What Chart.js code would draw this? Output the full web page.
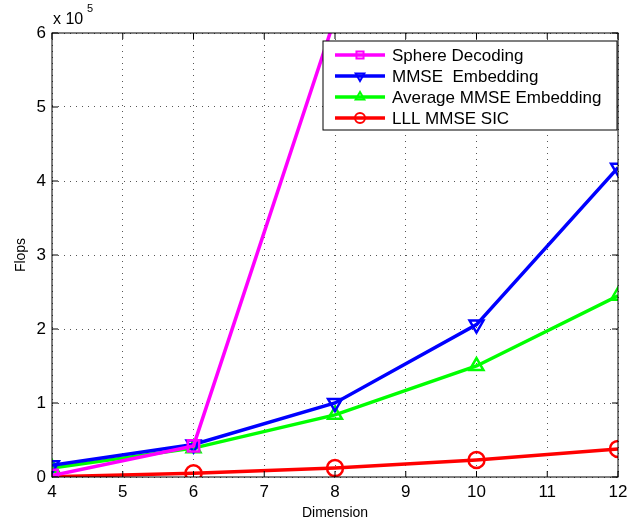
<!DOCTYPE html>
<html>
<head>
<meta charset="utf-8">
<script src="https://cdn.jsdelivr.net/npm/chart.js@4"></script>
<style>
  body { margin: 0; background: #fff; }
  #wrap { width: 638px; height: 522px; }
</style>
</head>
<body>
<div id="wrap"><canvas id="flopsChart"></canvas></div>
<script>
// Data (flops)
const dims = [4, 6, 8, 10, 12];
const sphereDecoding = [2000, 42000, 620000, null, null];
const mmseEmbedding = [16000, 44000, 100000, 206000, 418000];
const avgMmseEmbedding = [12000, 39000, 84000, 150000, 245000];
const lllMmseSic = [500, 5000, 12000, 23000, 38000];
const yTicks = [0, 1, 2, 3, 4, 5, 6];

const FONT = 'Liberation Sans, Arial, sans-serif';

function toPoints(vals) {
    return dims.map((d, i) => ({ x: d, y: vals[i] }));
}

function series(label, vals, color, style, rot) {
    return {
        label: label,
        data: toPoints(vals),
        borderColor: color,
        backgroundColor: color,
        borderWidth: 3.5,
        pointStyle: style,
        pointRotation: rot || 0,
        pointRadius: 8,
        pointBorderWidth: 2.5,
        pointBackgroundColor: 'rgba(0,0,0,0)',
        pointBorderColor: color,
        tension: 0,
        spanGaps: false
    };
}

// MATLAB style: box, inward ticks, exponent label, legend inside
const matlabAxes = {
    id: 'matlabAxes',
    afterDraw(chart) {
        const ctx = chart.ctx;
        const a = chart.chartArea;
        const xs = chart.scales.x, ys = chart.scales.y;
        ctx.save();
        ctx.strokeStyle = '#000';
        ctx.lineWidth = 1;
        ctx.strokeRect(a.left, a.top, a.right - a.left, a.bottom - a.top);
        ctx.beginPath();
        dims.concat([5, 7, 9, 11]).forEach(v => {
            const px = xs.getPixelForValue(v);
            ctx.moveTo(px, a.bottom); ctx.lineTo(px, a.bottom - 6);
            ctx.moveTo(px, a.top); ctx.lineTo(px, a.top + 6);
        });
        yTicks.forEach(v => {
            const py = ys.getPixelForValue(v * 1e5);
            ctx.moveTo(a.left, py); ctx.lineTo(a.left + 6, py);
            ctx.moveTo(a.right, py); ctx.lineTo(a.right - 6, py);
        });
        ctx.stroke();

        // exponent
        ctx.fillStyle = '#000';
        ctx.font = '16px ' + FONT;
        ctx.textBaseline = 'alphabetic';
        ctx.textAlign = 'left';
        ctx.fillText('x 10', a.left + 1, 24);
        ctx.font = '11px ' + FONT;
        ctx.fillText('5', a.left + 35, 12);

        // y title
        ctx.save();
        ctx.translate(25, (a.top + a.bottom) / 2);
        ctx.rotate(-Math.PI / 2);
        ctx.textAlign = 'center';
        ctx.textBaseline = 'alphabetic';
        ctx.font = '14px ' + FONT;
        ctx.fillText('Flops', 0, 0);
        ctx.restore();

        // legend
        const lx = 323, ly = 41, lw = 294, lh = 89;
        ctx.fillStyle = '#fff';
        ctx.fillRect(lx, ly, lw, lh);
        ctx.strokeStyle = '#000';
        ctx.lineWidth = 1;
        ctx.strokeRect(lx, ly, lw, lh);
        chart.data.datasets.forEach((ds, i) => {
            const cy = ly + 14 + i * 21;
            ctx.strokeStyle = ds.borderColor;
            ctx.lineWidth = 3.5;
            ctx.beginPath();
            ctx.moveTo(lx + 12, cy); ctx.lineTo(lx + 62, cy);
            ctx.stroke();
            ctx.lineWidth = 2;
            ctx.fillStyle = 'rgba(0,0,0,0)';
            Chart.helpers.drawPoint(ctx, {
                pointStyle: ds.pointStyle, rotation: ds.pointRotation,
                radius: 5, borderWidth: 2
            }, lx + 37, cy);
            ctx.fillStyle = '#000';
            ctx.font = '17px ' + FONT;
            ctx.textBaseline = 'middle';
            ctx.fillText(ds.label, lx + 69, cy + 1);
        });
        ctx.restore();
    }
};

const ctx = document.getElementById('flopsChart').getContext('2d');
const flopsChart = new Chart(ctx, {
    type: 'line',
    data: {
        datasets: [
            series('Sphere Decoding', sphereDecoding, '#ff00ff', 'rect'),
            series('MMSE  Embedding', mmseEmbedding, '#0000ff', 'triangle', 180),
            series('Average MMSE Embedding', avgMmseEmbedding, '#00ff00', 'triangle'),
            series('LLL MMSE SIC', lllMmseSic, '#ff0000', 'circle')
        ]
    },
    options: {
        responsive: true,
        maintainAspectRatio: false,
        animation: false,
        layout: { padding: { top: 33, right: 20, left: 0, bottom: 0 } },
        plugins: {
            legend: { display: false },
            tooltip: { enabled: false }
        },
        scales: {
            x: {
                type: 'linear',
                min: 4, max: 12,
                afterFit(scale) { scale.height = 45; },
                ticks: {
                    stepSize: 1,
                    color: '#000',
                    font: { family: FONT, size: 17 },
                    padding: 5
                },
                grid: {
                    color: '#555',
                    drawTicks: false
                },
                border: { display: false, dash: [1, 5] },
                title: {
                    display: true,
                    text: 'Dimension',
                    color: '#000',
                    font: { family: FONT, size: 14 },
                    padding: { top: 0, bottom: 0 }
                }
            },
            y: {
                min: 0, max: 600000,
                afterFit(scale) { scale.width = 52; },
                afterBuildTicks(scale) {
                    scale.ticks = yTicks.map(v => ({ value: v * 1e5 }));
                },
                ticks: {
                    color: '#000',
                    font: { family: FONT, size: 17 },
                    padding: 6,
                    callback: v => String(v / 1e5)
                },
                grid: {
                    color: '#555',
                    drawTicks: false
                },
                border: { display: false, dash: [1, 5] }
            }
        }
    },
    plugins: [matlabAxes]
});
</script>
</body>
</html>
